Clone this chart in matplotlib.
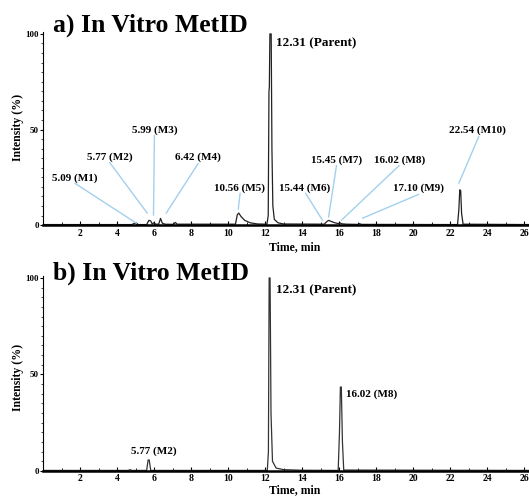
import matplotlib
matplotlib.use("Agg")
import matplotlib.pyplot as plt
from matplotlib.ticker import MultipleLocator

plt.rcParams['font.family'] = ['Liberation Serif', 'DejaVu Serif']
plt.rcParams['font.weight'] = 'bold'

# trace a) (time, min / intensity, %)
time_a = [0, 4.8, 4.95, 5.05, 5.15, 5.6, 5.72, 5.82, 5.9, 5.98, 6.1, 6.25, 6.35, 6.45,
          6.6, 7.05, 7.15, 7.25, 10.4, 10.5, 10.58, 10.7, 10.9, 11.2, 11.6, 12.1, 12.17,
          12.21, 12.23, 12.26, 12.33, 12.37, 12.42, 12.5, 12.7, 13.0, 15.2, 15.35,
          15.45, 15.55, 15.75, 15.95, 16.05, 16.15, 16.4, 17.0, 17.1, 17.2, 22.4, 22.47,
          22.52, 22.57, 22.62, 22.7, 26.3]
int_a = [0.3, 0.3, 1.0, 1.0, 0.3, 0.3, 2.5, 2.2, 0.6, 1.2, 0.5, 0.5, 3.5, 1.0,
         0.5, 0.4, 1.4, 0.5, 0.5, 5.5, 6.3, 4.5, 2.5, 1.2, 0.6, 0.5, 5,
         70, 72, 100, 100, 40, 10, 3, 1.2, 0.6, 0.5, 2.0,
         2.5, 2.0, 1.3, 0.8, 1.2, 0.7, 0.5, 0.4, 0.8, 0.4, 0.3, 8,
         18.5, 18, 6, 0.5, 0.3]

# trace b)
time_b = [0, 4.6, 4.7, 4.8, 5.6, 5.68, 5.74, 5.82, 12.12, 12.18, 12.22, 12.27, 12.32,
          12.4, 12.6, 13.0, 14.0, 15.95, 16.02, 16.07, 16.12, 16.18, 16.25, 26.3]
int_b = [0.3, 0.3, 0.7, 0.3, 0.3, 5.7, 5.7, 0.3, 0.3, 10, 100, 100, 30,
         5, 1.5, 0.7, 0.4, 0.3, 20, 43.5, 43.5, 15, 0.5, 0.3]

# labels: text, text position, leader line start, leader line end
labels_a = ["5.09 (M1)", "5.77 (M2)", "5.99 (M3)", "6.42 (M4)", "10.56 (M5)",
            "15.44 (M6)", "15.45 (M7)", "16.02 (M8)", "17.10 (M9)", "22.54 (M10)"]
text_a = [(1.72, 24.5), (3.6, 35.5), (6.02, 49.5), (8.35, 35.5), (10.6, 19.5),
          (14.15, 19.5), (15.86, 34), (19.25, 34), (20.3, 19.5), (23.5, 49.5)]
line_start_a = [(1.72, 21.9), (3.6, 32.8), (6.02, 47), (8.39, 32.3), (10.65, 16.7),
                (14.19, 16.7), (15.86, 31.2), (19.25, 31.2), (20.3, 16.1), (23.55, 46.4)]
line_end_a = [(5.05, 1.0), (5.64, 6.2), (5.97, 5.2), (6.65, 6.2), (10.55, 8.3),
              (15.1, 2.6), (15.43, 4.2), (16.13, 2.6), (17.26, 3.6), (22.47, 21.9)]

labels_b = ["5.77 (M2)", "16.02 (M8)"]
text_b = [(5.97, 10.5), (16.35, 40)]

parent_label = "12.31 (Parent)"
parent_pos = [(12.58, 95.3), (12.58, 93.8)]

x_ticks = list(range(2, 27, 2))
y_ticks = [0, 50, 100]

fig = plt.figure(figsize=(5.29, 4.97), dpi=100)
ax_a = fig.add_axes([0.0813, 0.547, 0.919, 0.3886])
ax_b = fig.add_axes([0.0813, 0.0523, 0.919, 0.3924])

line_blue = '#a3d0ec'


def style_axis(ax):
    ax.set_xlim(0, 26.27)
    ax.set_ylim(0, 101)
    for side in ['top', 'right']:
        ax.spines[side].set_visible(False)
    ax.spines['bottom'].set_linewidth(1.8)
    ax.spines['left'].set_linewidth(0.8)
    ax.set_xticks(x_ticks)
    ax.set_yticks(y_ticks)
    ax.set_yticklabels([str(v) for v in y_ticks])
    ax.xaxis.set_minor_locator(MultipleLocator(1))
    ax.yaxis.set_minor_locator(MultipleLocator(5))
    ax.tick_params(axis='x', which='major', direction='in', length=3, width=0.8,
                   labelsize=7, pad=2.5)
    ax.tick_params(axis='x', which='minor', direction='in', length=2, width=0.6)
    ax.tick_params(axis='y', which='major', direction='out', length=2, width=0.8,
                   labelsize=6.5, pad=1)
    ax.tick_params(axis='y', which='minor', direction='out', length=1.5, width=0.5)
    for lab in ax.get_xticklabels() + ax.get_yticklabels():
        lab.set_fontweight('bold')


style_axis(ax_a)
style_axis(ax_b)

ax_a.plot(time_a, int_a, color='#222222', lw=0.9)
ax_b.plot(time_b, int_b, color='#333333', lw=0.9)

for lab, tp, ls, le in zip(labels_a, text_a, line_start_a, line_end_a):
    ax_a.annotate('', xy=le, xytext=ls,
                  arrowprops=dict(arrowstyle='-', color=line_blue, lw=1.0,
                                  shrinkA=0, shrinkB=0))
    ax_a.text(tp[0], tp[1], lab, ha='center', va='center', fontsize=8, fontweight='bold')

for lab, tp in zip(labels_b, text_b):
    ax_b.text(tp[0], tp[1], lab, ha='center' if lab.startswith('5') else 'left',
              va='center', fontsize=8, fontweight='bold')

ax_a.text(parent_pos[0][0], parent_pos[0][1], parent_label, ha='left', va='center',
          fontsize=9.5, fontweight='bold')
ax_b.text(parent_pos[1][0], parent_pos[1][1], parent_label, ha='left', va='center',
          fontsize=9.5, fontweight='bold')

fig.text(0.1, 0.95, "a) In Vitro MetID", fontsize=18.5, fontweight='bold', va='center')
fig.text(0.1, 0.4507, "b) In Vitro MetID", fontsize=18.5, fontweight='bold', va='center')

fig.text(0.034, 0.744, "Intensity (%)", rotation=90, ha='center', va='center',
         fontsize=8.5, fontweight='bold')
fig.text(0.034, 0.241, "Intensity (%)", rotation=90, ha='center', va='center',
         fontsize=8.5, fontweight='bold')
fig.text(0.558, 0.503, "Time, min", ha='center', va='center', fontsize=8.5, fontweight='bold')
fig.text(0.558, 0.0135, "Time, min", ha='center', va='center', fontsize=8.5, fontweight='bold')

fig.savefig("out.png", dpi=100)
